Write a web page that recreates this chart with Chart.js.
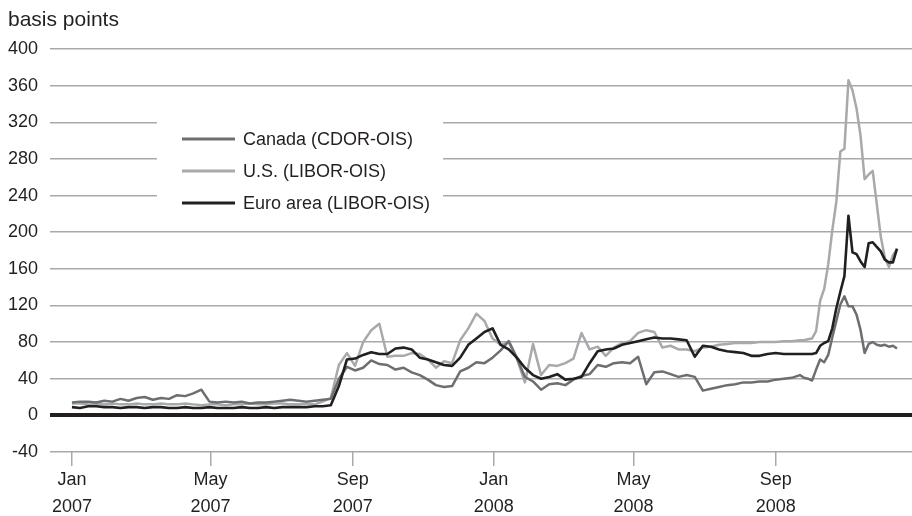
<!DOCTYPE html>
<html>
<head>
<meta charset="utf-8">
<script src="https://cdn.jsdelivr.net/npm/chart.js@4.4.1/dist/chart.umd.min.js"></script>
<style>
  body { margin: 0; background: #fff; }
  #wrap { width: 912px; height: 516px; }
</style>
</head>
<body>
<div id="wrap"><canvas id="spreadChart"></canvas></div>
<script>
// observation days, counted from 1 Jan 2007 (weekly, then every 3.5 days through the autumn 2008 spike)
const weeklyDays = [...Array(91).keys()].map(w => w * 7);
const spikeDays = [633.5, 637, 640.5, 644, 647.5, 651, 654.5, 658, 661.5, 665, 668.5, 672,
                   675.5, 679, 682.5, 686, 689.5, 693, 696.5, 700, 703.5, 707, 710.5, 714];
const obsDays = weeklyDays.concat(spikeDays);

// spreads in basis points
const canada = [14,15,15,14,16,15,18,16,19,20,17,19,18,22,21,24,28,
                15,14,15,14,15,13,14,14,15,16,17,16,15,16,17,18,
                40,53,49,52,60,56,55,50,52,47,44,39,33,31,32,48,52,58,57,63,71,81,63,42,37,28,34,35,33,39,43,45,
                55,53,57,58,57,64,34,47,48,45,42,44,42,27,29,31,33,34,36,36,37,37,39,40,41,44,
                41,40,38,50,61,58,66,85,103,121,130,119,119,110,93,68,78,80,77,76,77,75,76,73];
const us = [13,13,12,13,12,13,12,12,13,12,12,13,12,12,13,12,11,12,12,11,12,12,13,12,12,13,13,12,12,13,12,15,19,
            55,68,54,80,93,100,64,65,65,68,67,61,52,59,57,82,95,111,103,84,77,80,62,36,78,44,55,54,57,62,90,72,
            75,65,74,79,81,90,93,91,74,76,72,72,70,74,75,77,78,79,79,79,80,80,80,81,81,82,
            82,83,84,92,125,138,165,202,233,288,291,366,355,335,305,258,263,267,231,195,172,162,175,181];
const euro = [9,8,10,10,9,9,8,9,9,8,9,9,8,8,9,8,8,9,8,8,8,9,8,8,9,8,9,9,9,9,10,10,11,
              32,61,62,66,69,67,67,73,74,72,63,61,58,55,54,63,77,84,91,95,77,72,63,52,44,40,42,45,39,40,42,57,
              70,72,73,77,79,81,83,85,84,84,83,82,64,76,75,72,70,69,68,65,65,67,68,67,67,67,
              67,67,67,68,76,79,81,95,117,135,152,218,178,176,168,162,188,189,184,179,170,167,167,182];

const seriesNames = ['Canada (CDOR-OIS)', 'U.S. (LIBOR-OIS)', 'Euro area (LIBOR-OIS)'];

// x axis ticks
const tickDays = [0, 120, 243, 365, 486, 609];
const tickMonths = ['Jan', 'May', 'Sep', 'Jan', 'May', 'Sep'];
const tickYears = ['2007', '2007', '2007', '2008', '2008', '2008'];

const ink = '#231f20';
const gridGrey = '#a7a9ac';
const fontFamily = '"Liberation Sans", Arial, Helvetica, sans-serif';

function toPoints(values) {
    return values.map((v, i) => ({x: obsDays[i], y: v}));
}

// legend box and unit label
const overlay = {
    id: 'overlay',
    afterDraw(chart) {
        const ctx = chart.ctx;
        ctx.save();
        ctx.fillStyle = ink;
        ctx.font = '21px ' + fontFamily;
        ctx.textBaseline = 'middle';
        ctx.textAlign = 'left';
        ctx.fillText('basis points', 8, 20);

        ctx.fillStyle = '#fff';
        ctx.fillRect(157, 108, 286, 114);
        const order = [1, 2, 0]; // legend rows: Canada, U.S., Euro
        order.forEach((dsIndex, row) => {
            const ds = chart.data.datasets[dsIndex];
            const y = 139 + row * 32;
            ctx.strokeStyle = ds.borderColor;
            ctx.lineWidth = 3;
            ctx.beginPath();
            ctx.moveTo(182, y);
            ctx.lineTo(235, y);
            ctx.stroke();
            ctx.fillStyle = ink;
            ctx.font = '18px ' + fontFamily;
            ctx.fillText(ds.label, 243, y + 1);
        });
        ctx.restore();
    }
};

new Chart('spreadChart', {
    type: 'line',
    data: {
        datasets: [
            {label: seriesNames[2], data: toPoints(euro), borderColor: ink, borderWidth: 2.6, order: 0},
            {label: seriesNames[0], data: toPoints(canada), borderColor: '#6d6e71', borderWidth: 2.5, order: 1},
            {label: seriesNames[1], data: toPoints(us), borderColor: '#a7a9ac', borderWidth: 2.5, order: 2}
        ]
    },
    options: {
        responsive: true,
        maintainAspectRatio: false,
        animation: false,
        layout: {padding: {top: 49, left: 0, right: 0, bottom: 0}},
        elements: {
            point: {radius: 0},
            line: {tension: 0, borderJoinStyle: 'round', fill: false}
        },
        plugins: {
            legend: {display: false},
            tooltip: {enabled: false}
        },
        scales: {
            x: {
                type: 'linear',
                min: -19,
                max: 727,
                afterFit(scale) { scale.height = 64; },
                afterBuildTicks(scale) { scale.ticks = tickDays.map(v => ({value: v})); },
                border: {display: false},
                grid: {drawOnChartArea: false, drawTicks: true, tickLength: 14, color: gridGrey, lineWidth: 1.5},
                ticks: {
                    autoSkip: false,
                    maxRotation: 0,
                    padding: 1,
                    color: ink,
                    font: {family: fontFamily, size: 18, lineHeight: 1.5},
                    callback: (value, index) => [tickMonths[index], tickYears[index]]
                }
            },
            y: {
                min: -40,
                max: 400,
                afterFit(scale) { scale.width = 50; },
                border: {display: false},
                grid: {
                    drawTicks: false,
                    color: ctx => ctx.tick && ctx.tick.value === 0 ? ink : gridGrey,
                    lineWidth: ctx => ctx.tick && ctx.tick.value === 0 ? 4 : 1.5
                },
                ticks: {
                    stepSize: 40,
                    padding: 12,
                    color: ink,
                    font: {family: fontFamily, size: 18}
                }
            }
        }
    },
    plugins: [overlay]
});
</script>
</body>
</html>
